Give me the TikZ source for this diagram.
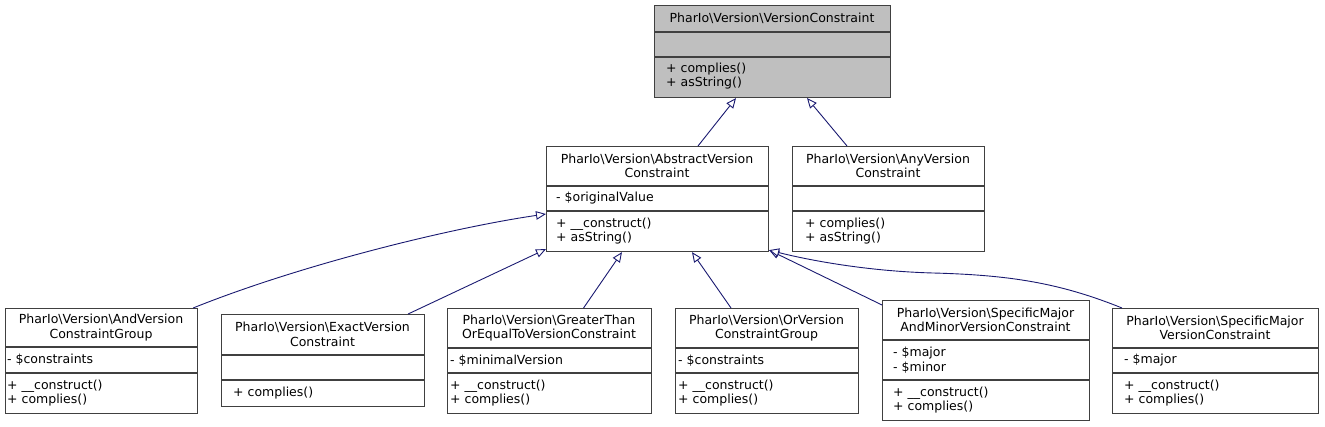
\documentclass[tikz,border=0pt]{standalone}
\usepackage{fontspec}
\setmainfont{DejaVu Sans}
\usetikzlibrary{arrows.meta,calc}
\definecolor{boxline}{HTML}{404040}
\definecolor{topfill}{HTML}{BFBFBF}
\definecolor{edgecol}{HTML}{191970}
\tikzset{
  cls/.style={draw=boxline, fill=white, line width=1.1pt, inner sep=0pt, anchor=north west},
  div/.style={draw=boxline, line width=1.1pt},
  txt/.style={inner sep=0pt, font=\fontsize{12.5pt}{14.5pt}\selectfont},
  ttl/.style={txt, align=center, anchor=center},
  mem/.style={txt, align=left, anchor=west},
  edge/.style={draw=edgecol, line width=0.9pt, -{Triangle[open, length=10pt, width=8.5pt, fill=white]}}
}
\newcommand{\bs}{\textbackslash}
\begin{document}
\begin{tikzpicture}[x=1pt,y=-1pt]
\useasboundingbox (0,0) rectangle (1325,427);
% VersionConstraint
\node[cls, fill=topfill, minimum width=236pt, minimum height=92pt] (vc) at (654,5) {};
\draw[div] (654,32) -- (890,32); \draw[div] (654,57) -- (890,57);
\node[ttl] (vct) at (772,18.5) {PharIo\bs Version\bs VersionConstraint};
\node[mem] (vcm) at (666,76) {+ complies()\\+ asString()};
% Abstract
\node[cls, minimum width=222pt, minimum height=105pt] (abs) at (546,146) {};
\draw[div] (546,186) -- (768,186); \draw[div] (546,211) -- (768,211);
\node[ttl] (abst) at (657,166) {PharIo\bs Version\bs AbstractVersion\\Constraint};
\node[mem] (absa) at (556,198.5) {- \$originalValue};
\node[mem] (absm) at (556,231) {+ \_\_construct()\\+ asString()};
% Any
\node[cls, minimum width=192pt, minimum height=105pt] (any) at (792,146) {};
\draw[div] (792,186) -- (984,186); \draw[div] (792,211) -- (984,211);
\node[ttl] (anyt) at (888,166) {PharIo\bs Version\bs AnyVersion\\Constraint};
\node[mem] (anym) at (805,231) {+ complies()\\+ asString()};
% And
\node[cls, minimum width=192pt, minimum height=105pt] (and) at (5,308) {};
\draw[div] (5,347) -- (197,347); \draw[div] (5,373) -- (197,373);
\node[ttl] (andt) at (101,327.5) {PharIo\bs Version\bs AndVersion\\ConstraintGroup};
\node[mem] (anda) at (7,360) {- \$constraints};
\node[mem] (andm) at (7,393) {+ \_\_construct()\\+ complies()};
% Exact
\node[cls, minimum width=203pt, minimum height=92pt] (exact) at (221,314) {};
\draw[div] (221,355) -- (424,355); \draw[div] (221,380) -- (424,380);
\node[ttl] (exactt) at (322.5,334.5) {PharIo\bs Version\bs ExactVersion\\Constraint};
\node[mem] (exactm) at (233,393) {+ complies()};
% GreaterThan
\node[cls, minimum width=204pt, minimum height=105pt] (gt) at (447,308) {};
\draw[div] (447,348) -- (651,348); \draw[div] (447,373) -- (651,373);
\node[ttl] (gtt) at (549,328) {PharIo\bs Version\bs GreaterThan\\OrEqualToVersionConstraint};
\node[mem] (gta) at (450,360.5) {- \$minimalVersion};
\node[mem] (gtm) at (450,393) {+ \_\_construct()\\+ complies()};
% Or
\node[cls, minimum width=183pt, minimum height=105pt] (or) at (675,308) {};
\draw[div] (675,348) -- (858,348); \draw[div] (675,373) -- (858,373);
\node[ttl] (ort) at (766.5,328) {PharIo\bs Version\bs OrVersion\\ConstraintGroup};
\node[mem] (ora) at (678,360.5) {- \$constraints};
\node[mem] (orm) at (678,393) {+ \_\_construct()\\+ complies()};
% SpecificMajorAndMinor
\node[cls, minimum width=207pt, minimum height=120pt] (smm) at (882,300) {};
\draw[div] (882,340) -- (1089,340); \draw[div] (882,380) -- (1089,380);
\node[ttl] (smmt) at (985.5,320) {PharIo\bs Version\bs SpecificMajor\\AndMinorVersionConstraint};
\node[mem] (smma) at (893,360) {- \$major\\- \$minor};
\node[mem] (smmm) at (893,400) {+ \_\_construct()\\+ complies()};
% SpecificMajor
\node[cls, minimum width=206pt, minimum height=105pt] (sm) at (1112,308) {};
\draw[div] (1112,348) -- (1318,348); \draw[div] (1112,373) -- (1318,373);
\node[ttl] (smt) at (1215,328) {PharIo\bs Version\bs SpecificMajor\\VersionConstraint};
\node[mem] (sma) at (1124,360.5) {- \$major};
\node[mem] (smm2) at (1124,393) {+ \_\_construct()\\+ complies()};
% edges
\draw[edge] ([xshift=152pt]abs.north west) -- ([xshift=82pt]vc.south west);
\draw[edge] ([xshift=55pt]any.north west) -- ([xshift=153pt]vc.south west);
\draw[edge] ([xshift=-5pt]and.north east) .. controls (300,265) and (450,228) .. ([yshift=-68pt]abs.north west);
\draw[edge] ([xshift=-17pt]exact.north east) -- ([yshift=3pt]abs.south west);
\draw[edge] ([xshift=34pt]gt.north) -- ([xshift=76pt]abs.south west);
\draw[edge] ([xshift=56pt]or.north west) -- ([xshift=146pt]abs.south west);
\draw[edge] ([yshift=-5pt]smm.north west) -- ([yshift=2pt]abs.south east);
\draw[edge] ([xshift=10pt]sm.north west) .. controls (1060,283) and (1010,275) .. (933,273) .. controls (860,271) and (800,258) .. ([yshift=2pt]abs.south east);
\end{tikzpicture}
\end{document}
